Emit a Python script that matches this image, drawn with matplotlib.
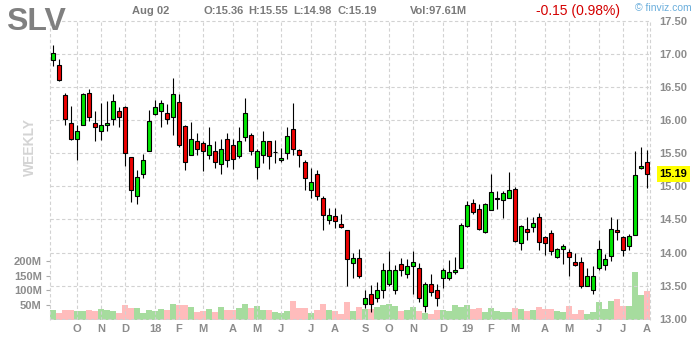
import matplotlib
matplotlib.use("Agg")
import matplotlib.pyplot as plt
import matplotlib.transforms as mtransforms
import numpy as np
import pandas as pd

plt.rcParams['font.family'] = ['Liberation Sans', 'DejaVu Sans']

ticker = "SLV"
first_week = "2017-09-08"   # weekly bars, week ending Friday
last_label = "Aug 02"
change_text = "-0.15 (0.98%)"

opens = [16.91, 16.83, 16.38, 15.95, 15.72, 15.93, 16.41, 15.96, 15.84, 15.92,
         16.01, 16.13, 16.19, 15.44, 14.85, 15.19, 15.53, 16.09, 16.14, 16.11,
         16.04, 16.28, 15.91, 15.48, 15.68, 15.66, 15.47, 15.53, 15.33, 15.72,
         15.62, 15.45, 15.75, 15.78, 15.29, 15.48, 15.68, 15.515, 15.39, 15.51,
         15.87, 15.55, 15.37, 14.94, 15.19, 14.83, 14.49, 14.55, 14.43, 14.34,
         13.85, 13.92, 13.22, 13.37, 13.31, 13.43, 13.52, 13.44, 13.83, 13.67,
         13.79, 13.77, 13.20, 13.53, 13.43, 13.61, 13.61, 13.70, 13.77, 14.40,
         14.75, 14.66, 14.31, 14.64, 14.815, 14.79, 14.82, 14.96, 14.15, 14.36,
         14.39, 14.54, 14.23, 14.30, 13.94, 14.06, 14.01, 13.86, 13.86, 13.50,
         13.43, 13.76, 13.82, 13.95, 14.34, 14.24, 14.10, 14.27, 15.27, 15.36]
highs = [17.13, 16.92, 16.41, 16.21, 15.92, 16.41, 16.47, 16.14, 16.26, 16.29,
         16.40, 16.19, 16.21, 15.44, 15.25, 15.49, 16.15, 16.30, 16.30, 16.24,
         16.63, 16.40, 15.92, 15.97, 15.80, 15.68, 15.89, 15.68, 15.71, 15.81,
         15.71, 15.89, 16.34, 15.80, 15.57, 15.84, 15.69, 15.70, 15.58, 15.90,
         16.26, 15.57, 15.39, 15.27, 15.24, 14.85, 14.68, 14.67, 14.58, 14.34,
         13.99, 14.05, 13.44, 13.51, 13.55, 13.84, 14.02, 13.82, 13.92, 13.91,
         14.02, 13.85, 13.55, 13.67, 13.52, 13.77, 13.89, 13.94, 14.45, 14.78,
         14.81, 14.73, 14.75, 15.18, 14.93, 14.93, 15.21, 14.99, 14.42, 14.54,
         14.54, 14.60, 14.25, 14.34, 14.07, 14.13, 14.06, 13.99, 13.94, 13.76,
         13.79, 14.19, 13.98, 14.54, 14.51, 14.25, 14.28, 15.53, 15.59, 15.55]
lows = [16.81, 16.59, 15.93, 15.70, 15.40, 15.93, 15.98, 15.69, 15.70, 15.84,
        15.92, 15.89, 15.31, 14.76, 14.73, 15.13, 15.53, 16.08, 15.90, 15.94,
        15.78, 15.60, 15.25, 15.48, 15.48, 15.23, 15.41, 15.27, 15.18, 15.29,
        15.26, 15.42, 15.68, 15.47, 15.11, 15.35, 15.26, 15.35, 15.36, 15.41,
        15.48, 15.29, 14.95, 14.83, 14.80, 14.34, 14.43, 14.37, 14.37, 13.49,
        13.62, 13.62, 13.17, 13.11, 13.25, 13.32, 13.50, 13.38, 13.64, 13.62,
        13.37, 13.25, 13.11, 13.35, 13.20, 13.47, 13.59, 13.68, 13.77, 14.39,
        14.58, 14.34, 14.30, 14.64, 14.66, 14.52, 14.82, 14.16, 14.04, 14.19,
        14.31, 14.04, 13.97, 13.97, 13.92, 13.83, 13.65, 13.79, 13.47, 13.49,
        13.38, 13.74, 13.74, 13.88, 14.19, 13.95, 14.04, 14.27, 15.26, 14.98]
closes = [17.01, 16.60, 16.02, 15.72, 15.84, 16.40, 16.05, 15.89, 15.92, 15.95,
          16.29, 16.05, 15.51, 14.94, 15.14, 15.39, 15.98, 16.20, 16.26, 16.02,
          16.40, 15.63, 15.36, 15.72, 15.57, 15.54, 15.62, 15.36, 15.57, 15.39,
          15.41, 15.68, 16.11, 15.54, 15.53, 15.69, 15.45, 15.52, 15.43, 15.76,
          15.57, 15.48, 15.12, 15.07, 14.85, 14.56, 14.56, 14.47, 14.38, 13.90,
          13.92, 13.64, 13.32, 13.22, 13.44, 13.73, 13.74, 13.74, 13.73, 13.80,
          13.86, 13.31, 13.53, 13.40, 13.31, 13.73, 13.70, 13.74, 14.42, 14.72,
          14.61, 14.36, 14.73, 14.91, 14.82, 14.90, 14.94, 14.18, 14.40, 14.31,
          14.45, 14.16, 14.15, 14.03, 14.06, 14.10, 13.94, 13.81, 13.49, 13.65,
          13.65, 14.06, 13.91, 14.36, 14.31, 14.04, 14.25, 15.17, 15.30, 15.19]
volumes = [32, 22, 32, 32, 28, 28, 32, 28, 35, 32,
           28, 22, 49, 39, 39, 22, 32, 28, 35, 32,
           52, 49, 49, 42, 25, 28, 35, 25, 42, 32,
           32, 39, 52, 39, 45, 32, 32, 25, 22, 28,
           62, 39, 39, 22, 32, 52, 32, 28, 18, 59,
           29, 44, 36, 36, 44, 49, 53, 46, 29, 32,
           44, 29, 23, 18, 32, 32, 28, 49, 43, 49,
           36, 39, 25, 39, 29, 25, 25, 39, 36, 29,
           32, 43, 36, 36, 29, 25, 46, 18, 32, 18,
           25, 60, 36, 63, 70, 46, 46, 163, 84, 97.61]   # millions

price_ticks = [13.0, 13.5, 14.0, 14.5, 15.0, 15.5, 16.0, 16.5, 17.0, 17.5]
volume_ticks = [50, 100, 150, 200]

W, H = 700, 340
o = np.array(opens); h = np.array(highs); l = np.array(lows); c = np.array(closes)
x = np.arange(len(o))
up = c >= o

weeks = pd.date_range(first_week, periods=len(o), freq="W-FRI")
month_idx, month_lbl = [], []
for i, d in enumerate(weeks):
    if i > 0 and d.month != weeks[i - 1].month:
        month_idx.append(i)
        month_lbl.append(d.strftime("%y") if d.month == 1 else d.strftime("%b")[0])

fig = plt.figure(figsize=(7, 3.4), dpi=100)
ax = fig.add_axes([50 / W, 1 - 319.5 / H, 600 / W, 299.5 / H])
axv = ax.twinx()
ax.set_zorder(2)
axv.set_zorder(1)
ax.patch.set_visible(False)

gray = "#8c8c8c"
grid_kw = dict(color="#d2d2d2", linestyle=(0, (3, 2.2)), linewidth=0.8)

# volume
vcol = np.where(up, "#a6dc9e", "#ffbcbc")
axv.bar(x, volumes, width=0.88, color=vcol, linewidth=0)
axv.set_ylim(0, 1030)
axv.yaxis.tick_left()
axv.set_yticks(volume_ticks, [f"{v}M" for v in volume_ticks])
axv.tick_params(axis="y", length=3, width=0.8, color="#aaaaaa", pad=3,
                labelsize=8, labelcolor=gray)
for t in axv.get_yticklabels():
    t.set_fontweight("bold")

# candles
ax.set_axisbelow(True)
ax.vlines(x, l, h, color="black", linewidth=0.8, zorder=2)
body = np.maximum(np.abs(c - o), 0.006)
ax.bar(x, body, bottom=np.minimum(o, c), width=0.55,
       color=np.where(up, "#00e600", "#ee0000"), edgecolor="black",
       linewidth=0.8, zorder=3)

ax.set_xlim(-0.5, len(o) - 0.5)
ax.set_ylim(12.99, 17.51)
ax.set_yticks(price_ticks, [f"{p:.2f}" for p in price_ticks])
ax.yaxis.tick_right()
ax.tick_params(axis="y", length=0, pad=7, labelsize=8, labelcolor=gray)
ax.set_xticks(month_idx, month_lbl)
ax.tick_params(axis="x", length=0, pad=3, labelsize=8, labelcolor=gray)
for t in ax.get_yticklabels() + ax.get_xticklabels():
    t.set_fontweight("bold")
ax.grid(True, **grid_kw)
for edge in (-0.5, len(o) - 0.5):
    ax.axvline(edge, clip_on=False, zorder=0.5, **grid_kw)
for a in (ax, axv):
    for s in a.spines.values():
        s.set_visible(False)

# last price marker
trans = mtransforms.blended_transform_factory(ax.transAxes, ax.transData)
ax.text(1.016, c[-1], f"{c[-1]:.2f}", transform=trans, ha="left", va="center",
        fontsize=8, fontweight="bold", color="black", clip_on=False,
        bbox=dict(boxstyle="square,pad=0.25", fc="#ffff00", ec="none"))

# header
def ft(px_x, px_y, s, **kw):
    fig.text(px_x / W, 1 - px_y / H, s, va="baseline", **kw)

ft(6, 30, ticker, fontsize=23, fontweight="bold", color="#808080")
ft(132, 14, last_label, fontsize=8, fontweight="bold", color="#7a7a7a")
ft(203, 14, f"O:{o[-1]:.2f}", fontsize=8, fontweight="bold", color="#7a7a7a")
ft(248, 14, f"H:{h[-1]:.2f}", fontsize=8, fontweight="bold", color="#7a7a7a")
ft(293, 14, f"L:{l[-1]:.2f}", fontsize=8, fontweight="bold", color="#7a7a7a")
ft(337, 14, f"C:{c[-1]:.2f}", fontsize=8, fontweight="bold", color="#7a7a7a")
ft(410, 14, f"Vol:{volumes[-1]:.2f}M", fontsize=8, fontweight="bold", color="#7a7a7a")
ft(536, 15, change_text, fontsize=10, color="#d40000")
ft(635, 11, "\u00a9 finviz.com", fontsize=7.5, color="#6aaedc")
fig.text(30 / W, 1 - 147 / H, "WEEKLY", rotation=90, ha="center", va="center",
         fontsize=10, fontweight="bold", color="#d4d4d4")

fig.savefig("out.png", dpi=100)
